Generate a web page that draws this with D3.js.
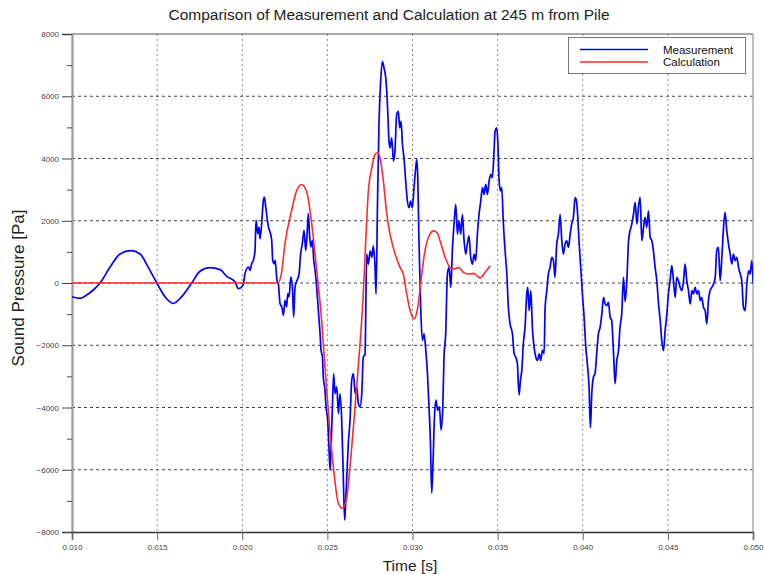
<!DOCTYPE html>
<html><head><meta charset="utf-8">
<script src="https://cdn.jsdelivr.net/npm/d3@7"></script>
<style>body{margin:0;background:#fff}svg{display:block}</style>
</head><body><svg id="c" width="765" height="574"></svg>
<script>
const title = "Comparison of Measurement and Calculation at 245 m from Pile";
const xLabel = "Time [s]";
const yLabel = "Sound Pressure [Pa]";
const seriesNames = ["Measurement", "Calculation"];
const xTicks = [0.010, 0.015, 0.020, 0.025, 0.030, 0.035, 0.040, 0.045, 0.050];
const yTicks = [-8000, -6000, -4000, -2000, 0, 2000, 4000, 6000, 8000];
const yMinorTicks = [-7000, -5000, -3000, -1000, 1000, 3000, 5000, 7000];

const measurement = [[0.01000,-440],[0.01047,-492],[0.01086,-386],[0.01125,-225],[0.01165,0],[0.01223,504],[0.01282,933],[0.01345,1039],[0.01400,933],[0.01448,504],[0.01498,0],[0.01546,-440],[0.01595,-653],[0.01644,-440],[0.01703,0],[0.01752,376],[0.01811,492],[0.01870,429],[0.01909,215],
[0.01958,32],[0.01977,-182],[0.01997,-128],[0.02007,-21],[0.02016,300],[0.02036,514],[0.02046,407],[0.02055,621],[0.02065,728],[0.02075,1049],[0.02081,2012],[0.02091,1584],[0.02099,1798],[0.02104,1423],[0.02114,1905],[0.02124,2654],[0.02130,2761],[0.02138,2440],[0.02148,2012],[0.02154,1798],[0.02163,1637],[0.02173,1370],[0.02179,728],[0.02187,621],[0.02193,728],[0.02199,407],[0.02204,86],[0.02212,-21],[0.02222,-663],[0.02232,-770],[0.02242,-1038],[0.02251,-556],[0.02261,-770],[0.02267,-342],[0.02275,-449],[0.02285,193],[0.02294,-75],[0.02302,-1091],[0.02310,-128],[0.02322,86],[0.02334,300],[0.02343,942],[0.02353,1263],[0.02363,1691],[0.02373,1049],[0.02381,1584],[0.02388,2226],[0.02396,1477],[0.02404,1156],[0.02412,1370],[0.02420,728],[0.02428,407],[0.02437,-128],[0.02447,-877],[0.02457,-1626],[0.02463,-2161],[0.02471,-2375],[0.02476,-3017],[0.02486,-3445],[0.02492,-3980],[0.02502,-4408],[0.02510,-5371],[0.02516,-6013],[0.02522,-5264],[0.02529,-4087],[0.02537,-2910],[0.02545,-3552],[0.02555,-3338],[0.02565,-4194],[0.02574,-3552],[0.02584,-4408],[0.02590,-5478],[0.02596,-6762],[0.02602,-7618],[0.02608,-6976],[0.02615,-6120],[0.02623,-5157],[0.02633,-4408],[0.02643,-3124],[0.02653,-2910],[0.02663,-3552],[0.02672,-3338],[0.02682,-3873],[0.02692,-3980],[0.02702,-3552],[0.02711,-2375],[0.02721,-2300],
[0.02731,928],[0.02741,608],[0.02751,1035],[0.02761,822],[0.02770,1195],[0.02780,501],[0.02786,-352],[0.02794,2422],[0.02803,5090],[0.02813,6477],[0.02823,7117],[0.02833,6903],[0.02843,6583],[0.02852,5836],[0.02862,4556],[0.02868,4343],[0.02878,4663],[0.02888,3916],[0.02897,4236],[0.02907,5410],[0.02917,5516],[0.02925,4983],[0.02933,5196],[0.02941,4449],[0.02950,4023],[0.02960,3276],[0.02970,2635],[0.02980,2422],[0.02989,2635],[0.02999,2422],[0.03009,3062],[0.03019,3702],[0.03025,3969],[0.03031,3382],[0.03038,1355],[0.03048,-779],[0.03058,-1846],[0.03068,-1632],[0.03078,-2166],[0.03088,-2913],[0.03097,-3980],[0.03105,-5047],[0.03113,-6754],[0.03121,-5687],[0.03129,-4300],[0.03138,-3766],[0.03148,-4087],[0.03158,-3980],[0.03168,-4727],[0.03178,-3980],[0.03185,-2379],[0.03195,-1632],[0.03205,288],[0.03215,501],[0.03225,-139],[0.03235,1142],[0.03244,1889],[0.03254,2529],[0.03264,1568],[0.03273,1995],[0.03283,1568],[0.03293,2209],[0.03303,1355],[0.03313,928],[0.03322,1248],[0.03332,1515],[0.03342,822],[0.03352,608],[0.03362,928],[0.03371,715],[0.03381,1568],[0.03391,2209],[0.03401,2635],[0.03411,3062],[0.03420,2849],[0.03430,3169],[0.03440,2849],[0.03450,3276],[0.03460,3489],[0.03469,3382],[0.03479,4236],[0.03485,4876],
[0.03495,4983],[0.03501,4556],[0.03508,3382],[0.03516,2956],[0.03524,3062],[0.03534,1889],[0.03544,1035],[0.03554,288],[0.03563,-779],[0.03573,-1312],[0.03587,-1632],[0.03597,-2273],[0.03606,-2379],[0.03616,-2593],[0.03626,-3600],[0.03634,-3126],[0.03642,-2806],[0.03651,-1953],[0.03661,-1419],[0.03671,-352],[0.03677,-139],[0.03685,-886],[0.03695,-245],[0.03704,-1419],[0.03714,-2059],[0.03724,-2379],[0.03734,-2486],[0.03744,-2273],[0.03753,-2486],[0.03763,-2166],[0.03773,-2273],[0.03779,-779],[0.03789,-245],[0.03798,288],[0.03808,501],[0.03818,822],[0.03828,715],[0.03837,181],[0.03847,1248],[0.03857,1568],[0.03867,2209],[0.03877,1355],[0.03886,928],[0.03896,1248],[0.03906,1355],[0.03916,1142],[0.03926,1568],[0.03935,1889],[0.03945,2102],[0.03955,2742],[0.03963,2635],[0.03971,2102],[0.03978,1355],[0.03988,501],[0.03998,-352],[0.04008,-1099],[0.04018,-2059],[0.04027,-2593],[0.04037,-3340],[0.04045,-4650],[0.04053,-3553],[0.04063,-3020],[0.04072,-2913],[0.04082,-2273],[0.04092,-1632],[0.04102,-1419],[0.04112,-992],[0.04122,-459],[0.04131,-672],[0.04141,-726],[0.04151,-619],[0.04161,-1099],[0.04170,-1206],[0.04180,-2166],[0.04190,-3233],[0.04200,-2486],[0.04210,-2166],[0.04219,-1419],[0.04229,-992],[0.04239,181],[0.04249,-600],
[0.04259,75],[0.04269,1359],[0.04278,1680],[0.04288,1894],[0.04298,2215],[0.04308,2589],[0.04318,1894],[0.04327,2429],[0.04337,2750],[0.04347,1359],[0.04357,1787],[0.04366,2108],[0.04376,1787],[0.04386,2322],[0.04396,1466],[0.04406,1359],[0.04415,1038],[0.04425,503],[0.04435,75],[0.04445,-674],[0.04455,-1209],[0.04464,-1851],[0.04474,-2172],[0.04484,-1530],[0.04494,-995],[0.04503,-353],[0.04513,75],[0.04523,556],[0.04533,75],[0.04543,-460],[0.04552,182],[0.04562,75],[0.04572,-139],[0.04582,-246],[0.04592,75],[0.04601,610],[0.04611,75],[0.04621,-246],[0.04631,-674],[0.04641,-246],[0.04650,-353],[0.04660,-139],[0.04670,-353],[0.04680,-246],[0.04690,-567],[0.04699,-460],[0.04709,-781],[0.04719,-888],[0.04729,-1316],[0.04738,-567],[0.04748,-246],[0.04758,-139],[0.04768,-32],[0.04778,182],[0.04787,1038],[0.04797,1145],[0.04807,75],[0.04817,824],[0.04827,1787],[0.04836,2268],[0.04846,1680],[0.04856,1252],[0.04866,931],[0.04876,610],[0.04885,931],[0.04895,717],[0.04905,824],[0.04915,503],[0.04925,289],[0.04934,75],[0.04944,-781],[0.04954,-888],[0.04964,-32],[0.04974,396],[0.04983,289],[0.04993,717],[0.05001,-32]];

const calculation = [[0.0100,0],[0.0150,0],[0.0200,0],[0.0221,0],[0.02230,300],[0.02251,1263],[0.02290,2333],[0.02320,2975],[0.02349,3167],[0.02379,2921],[0.02408,1905],[0.02437,407],[0.02463,-984],[0.02486,-2696],[0.02510,-4408],[0.02535,-5906],[0.02565,-7083],[0.02590,-7244],[0.02614,-6869],[0.02633,-5906],[0.02653,-4622],[0.02672,-3338],[0.02692,-1947],[0.02711,-342],[0.02721,835],[0.02741,2956],[0.02761,3702],[0.02780,4130],[0.02796,4183],[0.02809,4023],[0.02829,3276],[0.02849,2209],[0.02868,1568],[0.02898,928],[0.02927,501],[0.02946,288],[0.02966,-352],[0.02986,-886],[0.03009,-1152],[0.03031,-779],[0.03050,75],[0.03070,928],[0.03093,1462],[0.03123,1675],[0.03143,1622],[0.03168,1248],[0.03192,822],[0.03221,501],[0.03240,448],[0.03270,501],[0.03299,341],[0.03328,288],[0.03358,309],[0.03378,235],[0.03397,160],[0.03426,341],[0.03456,555]];

const svg = d3.select("#c");
const x = d3.scaleLinear().domain([0.010, 0.050]).range([72, 753]);
const y = d3.scaleLinear().domain([-8000, 8000]).range([532, 34]);
const font = "'Liberation Sans', Arial, sans-serif";

// grid
svg.append("g").selectAll("line").data(xTicks.slice(1, -1)).join("line")
  .attr("x1", d => x(d)).attr("x2", d => x(d)).attr("y1", y(8000)).attr("y2", y(-8000))
  .attr("stroke", "#8a8a8a").attr("stroke-width", 1).attr("stroke-dasharray", "2,3");
svg.append("g").selectAll("line").data(yTicks.slice(1, -1)).join("line")
  .attr("x1", x(0.010)).attr("x2", x(0.050)).attr("y1", d => y(d)).attr("y2", d => y(d))
  .attr("stroke", "#444").attr("stroke-width", 1).attr("stroke-dasharray", "3,3");

// frame top/right
svg.append("line").attr("x1", x(0.010)).attr("x2", x(0.050)).attr("y1", y(8000)).attr("y2", y(8000))
  .attr("stroke", "#555").attr("stroke-width", 1.2);
svg.append("line").attr("x1", x(0.050)).attr("x2", x(0.050)).attr("y1", y(8000)).attr("y2", y(-8000))
  .attr("stroke", "#aaa").attr("stroke-width", 1.5);

// y axis
const yAxis = svg.append("g").attr("transform", `translate(${x(0.010)},0)`)
  .call(d3.axisLeft(y).tickValues(yTicks).tickSize(10).tickPadding(3).tickFormat(d3.format("d")));
yAxis.select(".domain").attr("stroke", "#999").attr("stroke-width", 2.2);
yAxis.selectAll(".tick line").attr("stroke", "#444");
yAxis.selectAll("text").attr("font-family", font).attr("font-size", 8).attr("fill", "#444");
const yMinor = svg.append("g").attr("transform", `translate(${x(0.010)},0)`)
  .call(d3.axisLeft(y).tickValues(yMinorTicks).tickSize(5).tickFormat(""));
yMinor.select(".domain").remove();
yMinor.selectAll(".tick line").attr("stroke", "#444");

// x axis
const xAxis = svg.append("g").attr("transform", `translate(0,${y(-8000)})`)
  .call(d3.axisBottom(x).tickValues(xTicks).tickSize(8).tickPadding(4).tickFormat(d3.format(".3f")));
xAxis.select(".domain").attr("stroke", "#333").attr("stroke-width", 1.5);
xAxis.selectAll(".tick line").attr("stroke", "#666");
xAxis.selectAll("text").attr("font-family", font).attr("font-size", 8).attr("fill", "#444");

// series
svg.append("clipPath").attr("id", "pc").append("rect")
  .attr("x", x(0.010)).attr("y", y(8000)).attr("width", x(0.050) - x(0.010)).attr("height", y(-8000) - y(8000));
const calcLine = d3.line().x(d => x(d[0])).y(d => y(d[1])).curve(d3.curveMonotoneX);
const measLine = d3.line().x(d => x(d[0])).y(d => y(d[1])).curve(d3.curveMonotoneX);
svg.append("path").datum(measurement).attr("clip-path", "url(#pc)")
  .attr("d", measLine)
  .attr("fill", "none").attr("stroke", "#0000ff").attr("stroke-width", 1.7).attr("stroke-linejoin", "round");
svg.append("path").datum(calculation).attr("clip-path", "url(#pc)")
  .attr("d", calcLine)
  .attr("fill", "none").attr("stroke", "#ff2a2a").attr("stroke-width", 1.6);

// legend
const lg = svg.append("g");
lg.append("rect").attr("x", 568.5).attr("y", 37.5).attr("width", 177).attr("height", 36)
  .attr("fill", "#fff").attr("stroke", "#777").attr("stroke-width", 1);
const lcol = ["#0000ff", "#ff2a2a"];
seriesNames.forEach((n, i) => {
  const yy = 49.5 + i * 12.5;
  lg.append("line").attr("x1", 580).attr("x2", 648).attr("y1", yy).attr("y2", yy)
    .attr("stroke", lcol[i]).attr("stroke-width", 1.5);
  lg.append("text").attr("x", 663).attr("y", yy + 4).text(n)
    .attr("font-family", font).attr("font-size", 11.5).attr("fill", "#111");
});

// titles
svg.append("text").attr("x", 389).attr("y", 20).attr("text-anchor", "middle").text(title)
  .attr("font-family", font).attr("font-size", 15.5).attr("fill", "#222");
svg.append("text").attr("x", 410).attr("y", 571).attr("text-anchor", "middle").text(xLabel)
  .attr("font-family", font).attr("font-size", 15.5).attr("fill", "#222");
svg.append("text").attr("transform", "translate(24,288) rotate(-90)").attr("text-anchor", "middle").text(yLabel)
  .attr("font-family", font).attr("font-size", 17).attr("fill", "#222");
</script></body></html>
